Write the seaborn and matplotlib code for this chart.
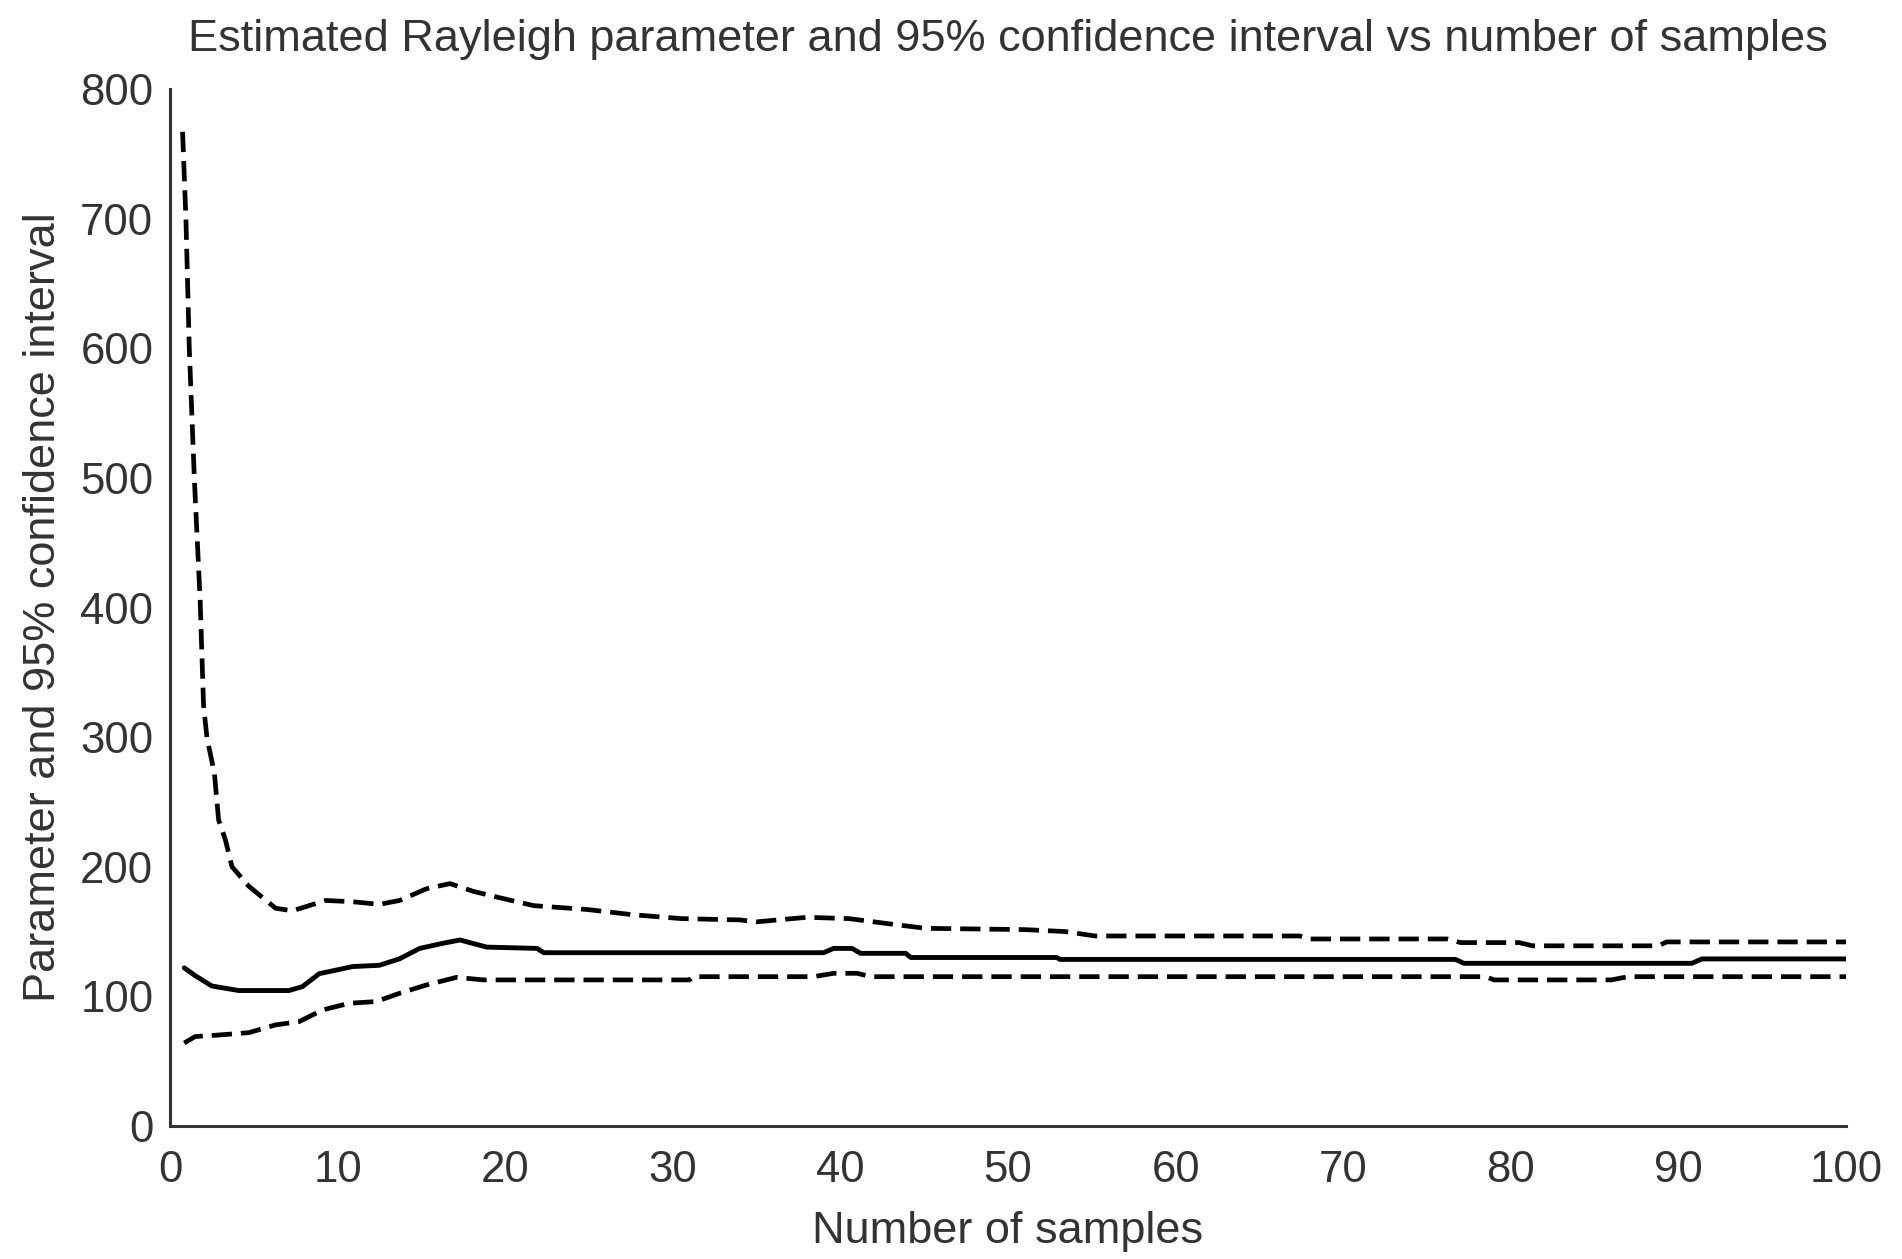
import numpy as np
import pandas as pd
import matplotlib
matplotlib.use("Agg")
import matplotlib.pyplot as plt
import seaborn as sns

# valores (n, valor)
upper_n = [0.75, 0.95, 1.15, 1.45, 1.8, 2.0, 2.2, 2.65, 2.9, 3.3, 3.7, 4.7, 6.3, 7.3,
           8.3, 9.3, 10.9, 12.5, 13.7, 15.3, 16.7, 18.1, 19.7, 21.7, 24.9, 27.6,
           30.5, 34.0, 35.0, 38.0, 40.5, 42.0, 43.5, 45.1, 51.0, 53.4, 55.2, 67.4,
           68.0, 76.2, 77.0, 80.5, 81.3, 88.8, 89.3, 100.0]
upper_v = [767, 700, 600, 500, 405, 325, 300, 272, 236, 221, 200, 185, 168, 166,
           170, 174, 173, 171, 174, 183, 187, 181, 176, 170, 167, 163,
           160, 159, 157.5, 161, 160, 157.5, 155, 152.5, 151.5, 150, 146.6, 146.6,
           144.3, 144.3, 141.5, 141.5, 139, 139, 142, 142]

est_n = [0.85, 1.5, 2.5, 4.1, 7.1, 7.9, 8.9, 10.9, 12.5, 13.7, 14.9, 16.3, 17.3,
         18.9, 21.9, 22.3, 39.0, 39.6, 40.7, 41.2, 43.9, 44.2, 52.9, 53.1, 76.7,
         77.2, 90.8, 91.4, 100.0]
est_v = [122, 116, 108, 104.5, 104.5, 107.5, 117.5, 123, 124, 129, 137, 141, 143.5,
         138, 137, 133.7, 133.7, 137, 137, 133.2, 133.2, 130, 130, 128.5, 128.5,
         125.5, 125.5, 128.9, 128.9]

lower_n = [0.85, 1.5, 2.7, 4.7, 6.3, 7.7, 9.1, 10.7, 12.3, 13.7, 15.3, 17.1, 18.7,
           31.0, 31.2, 38.4, 39.6, 41.0, 41.8, 78.5, 79.0, 86.0, 87.0, 100.0]
lower_v = [64, 69, 70, 72, 78, 80.5, 89.5, 94.7, 96, 102.4, 108.8, 114.7, 112.7,
           112.7, 115.2, 115.2, 117.8, 117.8, 115.2, 115.2, 112.7, 112.7, 115.2, 115.2]

x_ticks = [0, 10, 20, 30, 40, 50, 60, 70, 80, 90, 100]
y_ticks = [0, 100, 200, 300, 400, 500, 600, 700, 800]

sns.set_style("white")
plt.rcParams["font.family"] = ["Liberation Sans", "DejaVu Sans"]
plt.rcParams["lines.dashed_pattern"] = [4.3, 1.9]
TXT = "#333333"

fig = plt.figure(figsize=(19.02, 12.59), dpi=100)
ax = fig.add_axes([170 / 1902, 1 - 1126 / 1259, (1846 - 170) / 1902, (1126 - 89) / 1259])

sns.lineplot(x=upper_n, y=upper_v, ax=ax, color="black", lw=3.4, linestyle="--",
             estimator=None)
sns.lineplot(x=est_n, y=est_v, ax=ax, color="black", lw=3.5, estimator=None)
sns.lineplot(x=lower_n, y=lower_v, ax=ax, color="black", lw=3.4, linestyle="--",
             estimator=None)

ax.set_xlim(0, 100)
ax.set_ylim(0, 800)
ax.set_xticks(x_ticks)
ax.set_yticks(y_ticks)
ax.tick_params(direction="in", length=11, width=1.8, colors=TXT, labelsize=31.5)
ax.tick_params(axis="x", pad=17)
ax.tick_params(axis="y", pad=12)
for s in ["top", "right"]:
    ax.spines[s].set_visible(False)
for s in ["left", "bottom"]:
    ax.spines[s].set_color(TXT)
    ax.spines[s].set_linewidth(2.2)

ax.set_xlabel("Number of samples", fontsize=32.5, color=TXT, labelpad=15)
ax.set_ylabel("Parameter and 95% confidence interval", fontsize=32.5, color=TXT, labelpad=12)
# y fijo: evita que matplotlib suba el titulo por encima del label "800"
ax.set_title("Estimated Rayleigh parameter and 95% confidence interval vs number of samples",
             fontsize=32.5, color=TXT, y=1.0, pad=27)

fig.savefig("out.png", dpi=100)
